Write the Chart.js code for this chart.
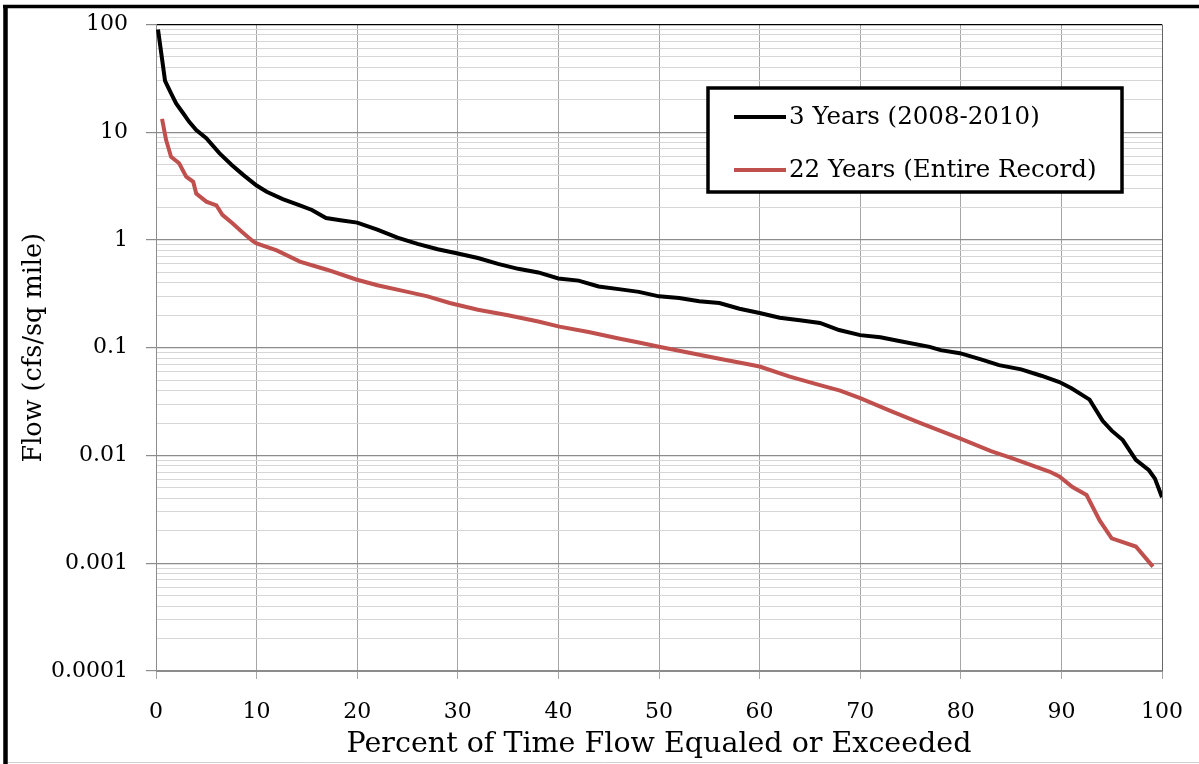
<!DOCTYPE html>
<html>
<head>
<meta charset="utf-8">
<script src="https://cdn.jsdelivr.net/npm/chart.js@4.4.1/dist/chart.umd.min.js"></script>
<style>
  html, body { margin: 0; padding: 0; background: #fff; overflow: hidden; }
  #wrap { width: 1199px; height: 764px; }
</style>
</head>
<body>
<div id="wrap"><canvas id="flowChart" width="1199" height="764"></canvas></div>
<script>
// 3 years (2008-2010)
const shortX = [0.2, 0.9, 1.5, 2.0, 2.7, 3.3, 4.0, 5.0, 6.3, 7.5, 8.7, 10.0, 11.0, 12.6, 14.3, 15.5, 16.9, 18.5,
  20.0, 22.0, 24.0, 26.0, 28.0, 30.0, 32.0, 34.0, 36.0, 38.0, 40.0, 42.0, 44.0, 46.0, 48.0, 50.0, 52.0, 54.0,
  56.0, 58.0, 60.0, 62.0, 64.0, 66.0, 67.9, 70.0, 72.0, 74.0, 76.9, 78.0, 79.9, 82.0, 83.8, 86.0, 88.0, 89.8,
  91.0, 92.8, 94.1, 95.0, 96.1, 97.4, 98.7, 99.3, 100];
const shortY = [90, 30, 23, 18.5, 15, 12.5, 10.5, 8.8, 6.4, 5.0, 4.0, 3.2, 2.8, 2.4, 2.1, 1.9, 1.6, 1.52,
  1.45, 1.25, 1.05, 0.92, 0.82, 0.75, 0.68, 0.6, 0.54, 0.5, 0.44, 0.42, 0.37, 0.35, 0.33, 0.30, 0.29, 0.27,
  0.26, 0.23, 0.21, 0.19, 0.18, 0.17, 0.146, 0.131, 0.125, 0.115, 0.102, 0.095, 0.089, 0.078, 0.069, 0.063, 0.055, 0.048,
  0.042, 0.033, 0.021, 0.017, 0.0139, 0.0091, 0.0073, 0.0061, 0.0041];

// 22 years (entire record)
const longX = [0.6, 1.0, 1.5, 2.3, 3.0, 3.7, 4.0, 5.0, 6.0, 6.6, 7.6, 8.5, 9.6, 10.0, 12.0, 14.3, 17.0, 19.9,
  22.0, 25.0, 27.0, 29.2, 32.0, 35.0, 38.0, 40.1, 43.0, 46.0, 48.0, 50.0, 53.0, 56.0, 59.0, 60.0, 63.0, 66.0,
  68.0, 70.0, 73.0, 76.0, 79.9, 83.0, 85.0, 88.8, 89.8, 91.1, 92.5, 93.8, 95.0, 97.4, 99.1];
const longY = [13.3, 8.5, 5.9, 5.15, 3.87, 3.47, 2.7, 2.27, 2.1, 1.71, 1.43, 1.2, 0.98, 0.93, 0.8, 0.63, 0.53, 0.43,
  0.38, 0.33, 0.30, 0.26, 0.225, 0.2, 0.175, 0.157, 0.14, 0.122, 0.112, 0.102, 0.09, 0.079, 0.07, 0.067, 0.054, 0.045,
  0.04, 0.034, 0.026, 0.02, 0.0144, 0.011, 0.0095, 0.0071, 0.0064, 0.0051, 0.0043, 0.0025, 0.0017, 0.00143, 0.00093];

const seriesLabels = ['3 Years (2008-2010)', '22 Years (Entire Record)'];
const seriesColors = ['#000000', '#c0504d'];

const yMajor = [0.0001, 0.001, 0.01, 0.1, 1, 10, 100];
const yMajorLabels = ['0.0001', '0.001', '0.01', '0.1', '1', '10', '100'];
const xTicks = [0, 10, 20, 30, 40, 50, 60, 70, 80, 90, 100];

const serif = 'DejaVu Serif';

// gridline positions: every 1..9 inside each decade
const yGrid = [];
yMajor.forEach((d, i) => {
  if (i === yMajor.length - 1) { yGrid.push(d); return; }
  for (let k = 1; k <= 9; k++) yGrid.push(+(d * k).toPrecision(3));
});

function isMajor(v) {
  return yMajor.some(m => Math.abs(v - m) / m < 1e-6);
}

const toPoints = (xs, ys) => xs.map((x, i) => ({ x: x, y: ys[i] }));

const framePlugin = {
  id: 'frame',
  beforeDraw(chart) {
    const c = chart.ctx;
    c.save();
    c.fillStyle = '#fff';
    c.fillRect(0, 0, chart.width, chart.height);
    c.restore();
  },
  afterDraw(chart) {
    const c = chart.ctx;
    c.save();
    // outer frame
    c.strokeStyle = '#000';
    c.lineWidth = 3.5;
    c.beginPath();
    c.moveTo(3, 6.5); c.lineTo(1199, 6.5);
    c.stroke();
    c.lineWidth = 4.5;
    c.beginPath();
    c.moveTo(5.5, 5); c.lineTo(5.5, 764);
    c.stroke();
    c.strokeStyle = '#d0d0d0';
    c.lineWidth = 1;
    c.beginPath();
    c.moveTo(8, 762.5); c.lineTo(1199, 762.5);
    c.stroke();

    // legend box
    c.fillStyle = '#fff';
    c.fillRect(708, 88, 414, 104);
    c.strokeStyle = '#000';
    c.lineWidth = 3.5;
    c.strokeRect(708, 88, 414, 104);
    const rows = [117, 170];
    chart.data.datasets.forEach((ds, i) => {
      c.strokeStyle = ds.borderColor;
      c.lineWidth = 4;
      c.beginPath();
      c.moveTo(734, rows[i]); c.lineTo(786, rows[i]);
      c.stroke();
      c.fillStyle = '#000';
      c.font = '24.5px "' + serif + '"';
      c.textBaseline = 'middle';
      c.textAlign = 'left';
      c.fillText(ds.label, 789, rows[i] + 1);
    });
    c.restore();
  }
};

new Chart(document.getElementById('flowChart'), {
  type: 'line',
  data: {
    datasets: [
      {
        label: seriesLabels[0],
        data: toPoints(shortX, shortY),
        borderColor: seriesColors[0],
        borderWidth: 4,
        pointRadius: 0,
        fill: false,
        tension: 0
      },
      {
        label: seriesLabels[1],
        data: toPoints(longX, longY),
        borderColor: seriesColors[1],
        borderWidth: 4,
        pointRadius: 0,
        fill: false,
        tension: 0
      }
    ]
  },
  options: {
    responsive: false,
    animation: false,
    layout: { padding: { top: 24.5, right: 37, left: 0, bottom: 0 } },
    plugins: {
      legend: { display: false },
      tooltip: { enabled: false }
    },
    scales: {
      x: {
        type: 'linear',
        min: 0,
        max: 100,
        afterBuildTicks: s => { s.ticks = xTicks.map(v => ({ value: v })); },
        afterFit: s => { s.height = 93; s.paddingLeft = 0; s.paddingRight = 0; },
        ticks: {
          color: '#000',
          font: { family: serif, size: 22 },
          padding: 20,
          maxRotation: 0
        },
        grid: {
          color: ctx => (ctx.tick && ctx.tick.value === 100) ? '#666' : '#a6a6a6',
          lineWidth: 1,
          tickLength: 8,
          tickColor: '#a6a6a6'
        },
        border: { color: '#8c8c8c', width: 1 },
        title: {
          display: true,
          text: 'Percent of Time Flow Equaled or Exceeded',
          color: '#000',
          font: { family: serif, size: 28.5 },
          padding: { top: 0, bottom: 2 }
        }
      },
      y: {
        type: 'logarithmic',
        min: 0.0001,
        max: 100,
        afterBuildTicks: s => { s.ticks = yGrid.map(v => ({ value: v })); },
        afterFit: s => { s.width = 156; s.paddingTop = 0; s.paddingBottom = 0; },
        ticks: {
          autoSkip: false,
          color: '#000',
          font: { family: serif, size: 22 },
          padding: 18,
          callback: (v) => {
            const i = yMajor.findIndex(m => Math.abs(v - m) / m < 1e-6);
            return i >= 0 ? yMajorLabels[i] : '';
          }
        },
        grid: {
          color: ctx => {
            const v = ctx.tick ? ctx.tick.value : 0;
            if (v === 100) return '#000';
            return isMajor(v) ? '#8c8c8c' : '#d6d6d6';
          },
          lineWidth: ctx => (ctx.tick && isMajor(ctx.tick.value)) ? 1.2 : 1,
          tickLength: 10,
          tickColor: ctx => (ctx.tick && isMajor(ctx.tick.value)) ? '#8c8c8c' : 'rgba(0,0,0,0)'
        },
        border: { color: '#8c8c8c', width: 1 },
        title: {
          display: true,
          text: 'Flow (cfs/sq mile)',
          color: '#000',
          font: { family: serif, size: 25.5 },
          padding: { top: 19, bottom: 0 }
        }
      }
    }
  },
  plugins: [framePlugin]
});
</script>
</body>
</html>
